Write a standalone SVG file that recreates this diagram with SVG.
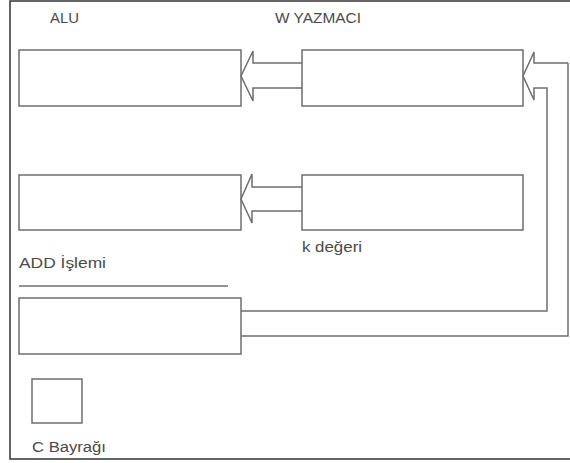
<svg xmlns="http://www.w3.org/2000/svg" width="570" height="463" viewBox="0 0 570 463">
<style>
.box{fill:#fff;stroke:#6e6e6e;stroke-width:1.5}
.ln{fill:none;stroke:#6e6e6e;stroke-width:1.5}
.t{font-family:"Liberation Sans",Arial,sans-serif;font-size:14px;fill:#4a4a4a}
</style>
<rect x="0" y="0" width="570" height="463" fill="#fff"/>
<rect x="10" y="1" width="575" height="458" fill="none" stroke="#333" stroke-width="1.5"/>
<text class="t" x="50" y="23" textLength="29" lengthAdjust="spacingAndGlyphs">ALU</text>
<text class="t" x="275" y="23" textLength="86" lengthAdjust="spacingAndGlyphs">W YAZMACI</text>
<g id="alu1"><rect class="box" x="19" y="50" width="222" height="56"/></g>
<g id="w"><rect class="box" x="302" y="50" width="221" height="56"/></g>
<g id="alu2"><rect class="box" x="19" y="175" width="222" height="55"/></g>
<g id="k"><rect class="box" x="302" y="175" width="221" height="55"/><text class="t" x="302" y="252" textLength="60" lengthAdjust="spacingAndGlyphs">k değeri</text></g>
<g id="add"><text class="t" x="19" y="268" textLength="87" lengthAdjust="spacingAndGlyphs">ADD İşlemi</text><line class="ln" x1="19" y1="286" x2="228" y2="286"/><rect class="box" x="19" y="298" width="222" height="56"/></g>
<g id="c"><rect class="box" x="32" y="379" width="50" height="44"/><text class="t" x="32" y="452" textLength="74" lengthAdjust="spacingAndGlyphs">C Bayrağı</text></g>
<g id="connectors">
<path class="ln" d="M302,63 H253 V51 L241,76 L253,101 V88 H302"/>
<path class="ln" d="M302,187 H252 V174 L241,199 L252,223 V211 H302"/>
<path class="ln" d="M568,63 H534 V52 L523,76 L534,100 V88 H547 V311 H241"/>
<path class="ln" d="M568,63 V336 H241"/>
</g>
</svg>
